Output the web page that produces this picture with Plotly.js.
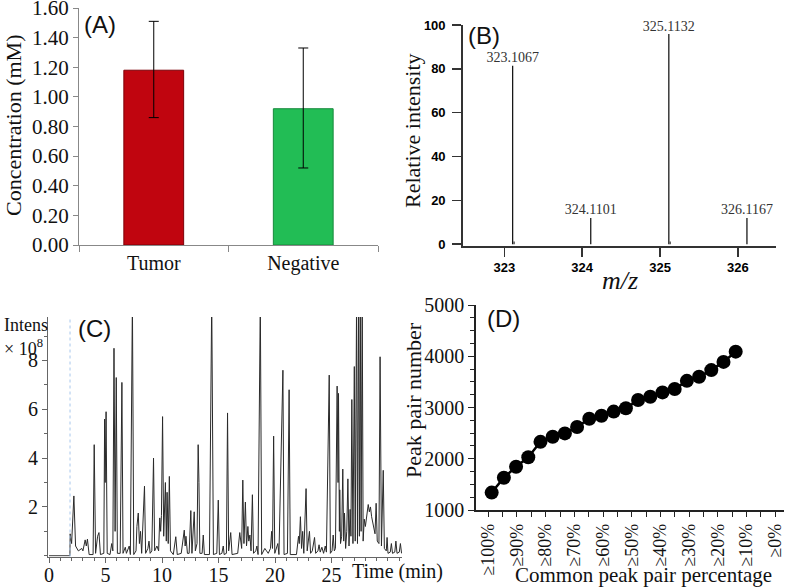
<!DOCTYPE html>
<html>
<head>
<meta charset="utf-8">
<script src="https://cdn.plot.ly/plotly-3.0.1.min.js"></script>
<style>
body { margin: 0; background: #fff; }
#myDiv { width: 787px; height: 588px; }
</style>
</head>
<body>
<div id="myDiv"></div>
<script>
// (A) concentration
var groups = ['Tumor', 'Negative'];
var concMean = [1.18, 0.92];
var concErrUp = [0.33, 0.41];
var concErrDown = [0.32, 0.40];

// (B) mass spectrum
var mzPeaks = [323.1067, 324.1101, 325.1132, 326.1167];
var mzIntensity = [81.4, 12, 95.9, 12];
var mzMinor = [323.125, 325.13];
var mzMinorIntensity = [1.2, 1.2];

// (C) chromatogram, read point by point (time in min, intensity x 10^8)
var chromTime = [0, 1.85, 1.87, 2.0, 2.2, 2.35, 2.6, 2.9, 3.0, 3.2, 3.3, 3.4, 3.55, 3.9, 4.0, 4.05, 4.12, 4.3, 4.42, 4.55,
    4.85, 4.92, 4.97, 5.05, 5.15, 5.4, 5.55, 5.65, 5.75, 5.85, 5.95, 6.05, 6.3, 6.45, 6.55, 6.75, 6.85, 7.1, 7.2, 7.38,
    7.5, 7.7, 7.78, 7.9, 8.0, 8.1, 8.2, 8.45, 8.55, 8.75, 8.85, 8.95, 9.1, 9.25, 9.35, 9.55, 9.7, 9.8, 9.88, 9.95,
    10.05, 10.15, 10.3, 10.38, 10.45, 10.55, 10.65, 10.75, 11.0, 11.22, 11.35, 11.7, 11.97, 12.05, 12.12, 12.25, 12.4, 12.55, 12.65, 12.85,
    12.95, 13.1, 13.2, 13.27, 13.35, 13.55, 13.65, 13.75, 14.2, 14.4, 14.55, 14.85, 14.98, 15.08, 15.3, 15.42, 15.5, 15.7, 15.8, 15.9,
    16.08, 16.2, 16.7, 16.88, 16.95, 17.05, 17.15, 17.25, 17.38, 17.48, 17.6, 17.68, 17.78, 17.88, 18.0, 18.1, 18.3, 18.4, 18.5, 18.7,
    18.82, 19.1, 19.25, 19.4, 19.6, 19.7, 19.78, 19.88, 19.98, 20.25, 20.35, 20.7, 20.8, 21.1, 21.25, 21.35, 21.9, 22.08, 22.15, 22.25,
    22.35, 22.45, 22.55, 22.75, 22.85, 23.05, 23.15, 23.3, 23.5, 23.6, 23.8, 23.9, 24.0, 24.15, 24.3, 24.45, 24.55, 24.8, 24.9, 25.05,
    25.15, 25.25, 25.35, 25.5, 25.58, 25.62, 25.7, 25.73, 25.8, 25.9, 26.0, 26.08, 26.15, 26.25, 26.35, 26.45, 26.55, 26.65, 26.72, 26.8,
    26.9, 27.02, 27.1, 27.22, 27.3, 27.4, 27.47, 27.55, 27.62, 27.72, 27.8, 27.9, 28.0, 28.1, 28.25, 28.35, 28.45, 28.55, 28.7, 28.85,
    28.95, 29.05, 29.2, 29.3, 29.42, 29.58, 29.68, 29.85, 29.92, 30.0, 30.2, 30.3, 30.4, 30.6, 30.7, 30.8, 31.0, 31.1, 31.2];
var chromIntensity = [0, 0, 0.9, 0.5, 2.45, 0.4, 0.2, 0.3, 0.2, 0.65, 0.4, 0.68, 0.05, 0.05, 4.55, 2.5, 0.1, 0.8, 0.95, 0.05,
    0.1, 5.6, 3.0, 5.9, 0.1, 0.05, 0.5, 0.2, 8.5, 1.0, 7.3, 0.1, 0.1, 7.1, 0.1, 0.35, 0.1, 0.4, 0.05, 10.5,
    0.05, 0.2, 1.2, 1.75, 0.5, 1.0, 0.1, 2.85, 0.1, 0.3, 0.6, 0.1, 0.2, 4.0, 0.2, 0.4, 0.2, 1.55, 1.0, 1.65,
    5.7, 0.8, 3.0, 0.6, 2.6, 0.5, 3.25, 0.2, 0.05, 0.78, 0.05, 0.1, 1.05, 0.4, 0.8, 0.1, 0.1, 1.85, 0.1, 1.8,
    0.2, 0.5, 4.55, 3.0, 0.1, 0.1, 0.85, 0.05, 0.05, 10.5, 0.05, 0.1, 2.28, 0.05, 0.1, 0.4, 0.05, 0.1, 5.85, 0.2,
    0.95, 0.05, 0.1, 0.95, 0.6, 0.3, 3.1, 0.5, 2.2, 0.4, 1.2, 0.6, 0.85, 0.2, 2.5, 0.1, 0.2, 0.4, 0.05, 10.5,
    0.05, 0.3, 0.2, 0.1, 0.3, 1.0, 0.3, 4.9, 0.1, 0.5, 0.05, 7.6, 0.05, 0.1, 6.8, 0.05, 0.05, 0.8, 0.5, 1.6,
    0.3, 1.0, 0.1, 2.75, 0.2, 1.0, 0.1, 0.2, 0.75, 0.1, 0.2, 0.45, 0.15, 0.35, 0.1, 0.4, 0.15, 7.4, 0.1, 0.2,
    0.85, 0.2, 0.3, 6.95, 3.0, 6.65, 1.0, 2.7, 0.5, 0.8, 3.55, 0.6, 1.75, 0.3, 1.0, 3.15, 0.4, 1.9, 0.8, 6.4,
    0.5, 7.75, 0.6, 10.5, 0.5, 10.5, 0.8, 10.5, 1.0, 10.5, 0.6, 1.5, 1.2, 1.5, 2.1, 1.8, 2.0, 1.6, 1.2, 0.9,
    2.15, 0.6, 0.5, 8.15, 0.4, 3.5, 0.3, 0.2, 0.75, 0.1, 0.15, 0.5, 0.1, 0.15, 0.6, 0.1, 0.15, 0.5, 0.1];
var rtMarker = [1.86];

// (D) peak pair number vs common percentage
var pairNumber = [1340, 1630, 1845, 2030, 2330, 2430, 2495, 2620, 2780, 2840, 2920, 2985, 3145, 3210, 3295, 3360,
    3520, 3600, 3730, 3890, 4090];
var pctLabels = ['≥100%', '≥90%', '≥80%', '≥70%', '≥60%', '≥50%', '≥40%', '≥30%', '≥20%', '≥10%', '≥0%'];

var W = 787, H = 588;
function px(x) { return x / W; }
function py(y) { return 1 - y / H; }

var serif = 'Liberation Serif, Times New Roman, serif';
var sans = 'Liberation Sans, Arial, sans-serif';

var pointIndex = pairNumber.map(function (v, i) { return i; });
var labelPos = pctLabels.map(function (v, k) { return -0.28 + 2.352 * k; });

var traceA = {
    x: groups,
    y: concMean,
    type: 'bar',
    width: 0.4,
    xaxis: 'x', yaxis: 'y',
    marker: {
        color: ['#c0050f', '#22bd55'],
        line: { color: ['#7d0008', '#178a3c'], width: 1 }
    },
    error_y: {
        type: 'data', symmetric: false,
        array: concErrUp, arrayminus: concErrDown,
        color: '#000', thickness: 1, width: 5
    },
    hoverinfo: 'none'
};

var traceB = {
    x: mzPeaks,
    y: mzIntensity,
    type: 'bar',
    width: 0.016,
    xaxis: 'x2', yaxis: 'y2',
    marker: { color: '#111' },
    hoverinfo: 'none'
};

var traceBminor = {
    x: mzMinor,
    y: mzMinorIntensity,
    type: 'bar',
    width: 0.02,
    xaxis: 'x2', yaxis: 'y2',
    marker: { color: '#555' },
    hoverinfo: 'none'
};

var traceBlabels = {
    x: mzPeaks,
    y: mzIntensity,
    mode: 'text',
    type: 'scatter',
    xaxis: 'x2', yaxis: 'y2',
    text: mzPeaks.map(function (v) { return v.toFixed(4); }),
    textposition: 'top center',
    textfont: { family: serif, size: 14, color: '#333' },
    cliponaxis: false,
    hoverinfo: 'none'
};

var traceC = {
    x: chromTime,
    y: chromIntensity,
    mode: 'lines',
    type: 'scatter',
    xaxis: 'x3', yaxis: 'y3',
    line: { color: '#2a2a2a', width: 1 },
    hoverinfo: 'none'
};

var traceD = {
    x: pointIndex,
    y: pairNumber,
    mode: 'lines+markers',
    type: 'scatter',
    xaxis: 'x4', yaxis: 'y4',
    line: { color: '#000', width: 2.5 },
    marker: { color: '#000', size: 14 },
    cliponaxis: false,
    hoverinfo: 'none'
};

function note(text, x, y, size, family, extra) {
    var a = {
        text: text, x: px(x), y: py(y), xref: 'paper', yref: 'paper',
        xanchor: 'center', yanchor: 'middle', showarrow: false,
        font: { family: family, size: size, color: '#111' }
    };
    for (var k in extra) { a[k] = extra[k]; }
    return a;
}

var layout = {
    width: W,
    height: H,
    margin: { l: 0, r: 0, t: 0, b: 0 },
    paper_bgcolor: '#fff',
    plot_bgcolor: '#fff',
    showlegend: false,
    barmode: 'overlay',
    font: { family: serif, color: '#000' },

    xaxis: {
        domain: [px(79), px(378)], anchor: 'y',
        type: 'category', range: [-0.5, 1.5],
        tickson: 'boundaries', ticks: 'outside', ticklen: 6,
        tickcolor: '#888', showline: true, linecolor: '#888',
        showgrid: false, zeroline: false, ticklabeloverflow: 'allow',
        tickfont: { family: serif, size: 20, color: '#111' }
    },
    yaxis: {
        domain: [py(245), py(8)], anchor: 'x',
        range: [0, 1.6], dtick: 0.2, tickformat: '.2f',
        ticks: 'outside', ticklen: 5, tickcolor: '#888',
        showline: true, linecolor: '#888',
        showgrid: false, zeroline: false, ticklabeloverflow: 'allow',
        tickfont: { family: serif, size: 21, color: '#111' }
    },

    xaxis2: {
        domain: [px(462.7), px(776)], anchor: 'y2',
        range: [322.465, 326.49], tickmode: 'array', tickvals: [323, 324, 325, 326],
        ticks: 'outside', ticklen: 9, tickcolor: '#333', tickwidth: 1.5,
        showline: true, linecolor: '#333', linewidth: 1.5,
        showgrid: false, zeroline: false, ticklabeloverflow: 'allow',
        tickfont: { family: sans, size: 13, color: '#000', weight: 'bold' }
    },
    yaxis2: {
        domain: [py(246.2), py(25)], anchor: 'x2',
        range: [-0.9, 100], tickmode: 'array', tickvals: [0, 20, 40, 60, 80, 100],
        ticks: 'outside', ticklen: 9, tickcolor: '#333', tickwidth: 1.5,
        showline: true, linecolor: '#333', linewidth: 1.5,
        showgrid: false, zeroline: false, ticklabeloverflow: 'allow',
        ticklabelstandoff: 4,
        tickfont: { family: sans, size: 13, color: '#000', weight: 'bold' }
    },

    xaxis3: {
        domain: [px(48), px(402)], anchor: 'y3',
        range: [-0.09, 31.24], tickmode: 'array', tickvals: [0, 5, 10, 15, 20, 25],
        ticks: 'outside', ticklen: 5, tickcolor: '#666',
        minor: { ticks: 'outside', ticklen: 3, dtick: 1, tick0: 0, tickcolor: '#666' },
        showline: true, linecolor: '#666',
        showgrid: false, zeroline: false, ticklabeloverflow: 'allow',
        ticklabelstandoff: -5,
        tickfont: { family: serif, size: 20, color: '#111' }
    },
    yaxis3: {
        domain: [py(556.5), py(317)], anchor: 'x3',
        range: [-0.03, 9.78], tickmode: 'array', tickvals: [2, 4, 6, 8],
        ticks: 'outside', ticklen: 5, tickcolor: '#666',
        minor: { ticks: 'outside', ticklen: 3, dtick: 1, tick0: 0, tickcolor: '#666' },
        showline: true, linecolor: '#666',
        showgrid: false, zeroline: false, ticklabeloverflow: 'allow',
        tickfont: { family: serif, size: 20, color: '#111' }
    },

    xaxis4: {
        domain: [px(475.7), px(784)], anchor: 'y4',
        range: [-1.31, 23.96], tickmode: 'array', tickvals: labelPos, ticktext: pctLabels,
        tickangle: -90,
        ticks: 'outside', ticklen: 5, tickcolor: '#222',
        minor: { ticks: 'outside', ticklen: 5, tick0: -0.28, dtick: 1.176, tickcolor: '#222' },
        showline: true, linecolor: '#222', linewidth: 1.5,
        showgrid: false, zeroline: false, ticklabeloverflow: 'allow',
        tickfont: { family: serif, size: 18, color: '#111' }
    },
    yaxis4: {
        domain: [py(510), py(305)], anchor: 'x4',
        range: [1000, 5000], dtick: 1000,
        ticks: 'outside', ticklen: 6, tickcolor: '#222',
        minor: { ticks: 'outside', ticklen: 4, dtick: 250, tickcolor: '#222' },
        showline: true, linecolor: '#222', linewidth: 1.5,
        showgrid: false, zeroline: false, ticklabeloverflow: 'allow',
        tickfont: { family: serif, size: 20, color: '#111' }
    },

    shapes: [{
        type: 'line', xref: 'x3', yref: 'y3 domain',
        x0: rtMarker[0], x1: rtMarker[0], y0: 0, y1: 1,
        line: { color: '#a9c8ec', width: 1, dash: 'dot' }
    }],

    annotations: [
        note('(A)', 100, 25, 24, sans),
        note('(B)', 484, 36, 24, sans),
        note('(C)', 94, 328, 24, sans),
        note('(D)', 503, 318, 24, sans),

        note('Concentration (mM)', 13, 126, 22, serif, { textangle: -90 }),
        note('Relative intensity', 413, 131, 22, serif, { textangle: -90 }),
        note('<i>m/z</i>', 620, 281, 26, serif),

        note('Intens', 2, 325, 18, serif, { xanchor: 'left' }),
        note('× 10<sup>8</sup>', 2, 347, 18, serif, { xanchor: 'left' }),
        note('Time (min)', 350, 571, 20, serif, { xanchor: 'left' }),

        note('Peak pair number', 413, 400, 22, serif, { textangle: -90 }),
        note('Common peak pair percentage', 643, 575, 21, serif)
    ]
};

var config = { displayModeBar: false, staticPlot: true };

Plotly.newPlot('myDiv', [traceA, traceB, traceBminor, traceBlabels, traceC, traceD], layout, config);
</script>
</body>
</html>
